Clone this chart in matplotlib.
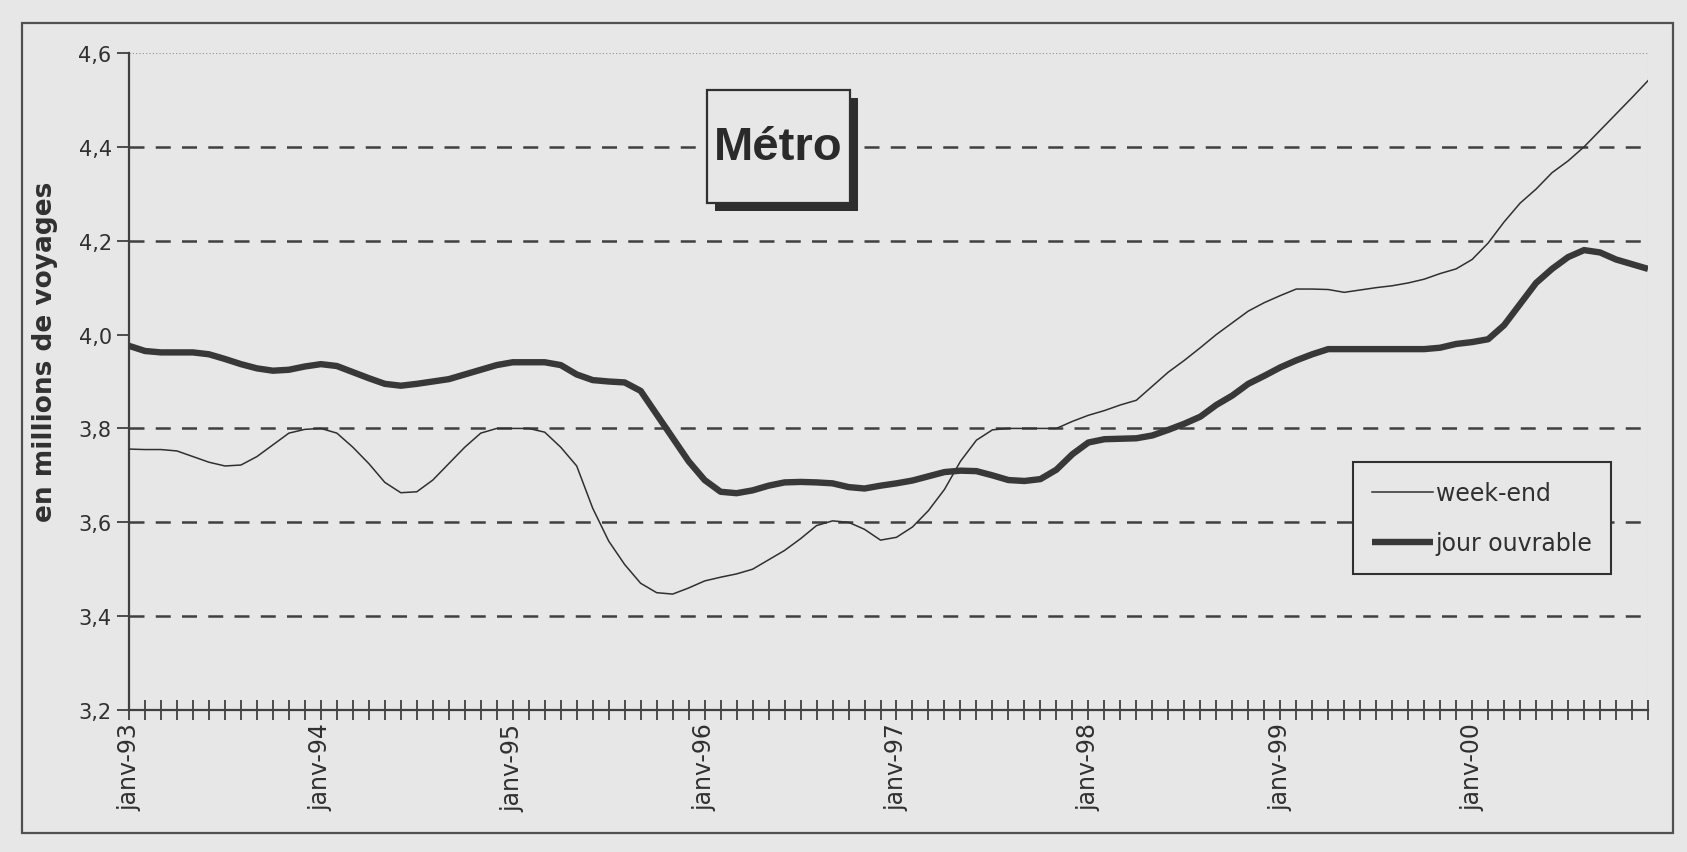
import matplotlib.pyplot as plt
from matplotlib.patches import Rectangle

# monthly values, janv-93 .. dec-00 (millions de voyages)
months = list(range(96))
week_end = [
    3.756, 3.755, 3.755, 3.752, 3.740, 3.728, 3.720, 3.722, 3.740, 3.765, 3.790, 3.798,
    3.800, 3.790, 3.760, 3.725, 3.685, 3.663, 3.665, 3.690, 3.725, 3.760, 3.790, 3.800,
    3.800, 3.800, 3.792, 3.760, 3.720, 3.630, 3.560, 3.510, 3.470, 3.450, 3.447, 3.460,
    3.475, 3.483, 3.490, 3.500, 3.520, 3.540, 3.565, 3.593, 3.603, 3.600, 3.585, 3.562,
    3.568, 3.590, 3.625, 3.670, 3.730, 3.775, 3.797, 3.800, 3.800, 3.800, 3.800, 3.815,
    3.828, 3.838, 3.850, 3.860, 3.890, 3.920, 3.945, 3.972, 4.000, 4.025, 4.050, 4.068,
    4.083, 4.097, 4.097, 4.096, 4.090, 4.095, 4.100, 4.104, 4.110, 4.118, 4.130, 4.140,
    4.160, 4.195, 4.240, 4.280, 4.310, 4.345, 4.370, 4.400, 4.435, 4.470, 4.505, 4.541,
]
jour_ouvrable = [
    3.976, 3.965, 3.962, 3.962, 3.962, 3.958, 3.948, 3.937, 3.928, 3.923, 3.925, 3.932,
    3.937, 3.933, 3.920, 3.907, 3.895, 3.891, 3.895, 3.900, 3.905, 3.915, 3.925, 3.935,
    3.941, 3.941, 3.941, 3.935, 3.915, 3.903, 3.900, 3.898, 3.880, 3.830, 3.780, 3.730,
    3.690, 3.665, 3.662, 3.668, 3.678, 3.685, 3.686, 3.685, 3.683, 3.675, 3.672, 3.678,
    3.683, 3.689, 3.698, 3.707, 3.710, 3.709, 3.700, 3.690, 3.688, 3.692, 3.712, 3.745,
    3.770, 3.777, 3.778, 3.779, 3.785, 3.797, 3.810, 3.825, 3.850, 3.870, 3.895, 3.912,
    3.930, 3.945, 3.958, 3.969, 3.969, 3.969, 3.969, 3.969, 3.969, 3.969, 3.972, 3.980,
    3.984, 3.990, 4.020, 4.065, 4.110, 4.140, 4.165, 4.180, 4.175, 4.160, 4.150, 4.140,
]
year_labels = ['janv-93', 'janv-94', 'janv-95', 'janv-96', 'janv-97', 'janv-98', 'janv-99', 'janv-00']
y_ticks = [3.2, 3.4, 3.6, 3.8, 4.0, 4.2, 4.4, 4.6]
grid_levels = [3.4, 3.6, 3.8, 4.2, 4.4]

bg = '#e7e7e7'
ink = '#303030'

fig = plt.figure(figsize=(16.87, 8.53), dpi=100, facecolor=bg)
ax = fig.add_axes([129 / 1687, 1 - 711 / 853, 1519 / 1687, 657 / 853])
ax.set_facecolor(bg)

# outer frame of the scanned chart
fig.patches.append(Rectangle((22 / 1687, 1 - 834 / 853), 1651 / 1687, 810 / 853,
                             transform=fig.transFigure, fill=False,
                             edgecolor='#505050', linewidth=1.6))

for lvl in grid_levels:
    ax.axhline(lvl, color='#404040', linewidth=1.8, linestyle=(0, (6, 4.5)), zorder=1)
ax.axhline(4.6, color='#909090', linewidth=0.8, linestyle=(0, (1, 2)), zorder=1)
ax.axvline(95, color='#909090', linewidth=0.8, linestyle=(0, (1, 2)), zorder=1)

ax.plot(months, week_end, color=ink, linewidth=1.1, label='week-end', zorder=3)
ax.plot(months, jour_ouvrable, color='#383838', linewidth=4.6, label='jour ouvrable',
        solid_capstyle='butt', zorder=3)

ax.set_xlim(0, 95)
ax.set_ylim(3.2, 4.6)
ax.set_yticks(y_ticks)
ax.set_yticklabels([('%.1f' % v).replace('.', ',') for v in y_ticks],
                   fontsize=15, color=ink)
ax.set_xticks(months, minor=True)
ax.set_xticks(list(range(0, 96, 12)))
ax.set_xticklabels(year_labels, rotation=90, fontsize=17, color=ink)
ax.tick_params(axis='x', which='both', direction='inout', length=14, width=1.3,
               color='#404040', pad=2)
ax.tick_params(axis='y', direction='out', length=9, width=1.3, color='#404040')

for side in ['top', 'right']:
    ax.spines[side].set_visible(False)
for side in ['left', 'bottom']:
    ax.spines[side].set_color('#404040')
    ax.spines[side].set_linewidth(1.6)

ax.set_ylabel('en millions de voyages', fontsize=19, fontweight='bold', color=ink)
ax.yaxis.set_label_coords(-0.047, 0.547)

# title box with shadow
bx, by, bw, bh = (707 - 129) / 1519, (711 - 204) / 657, 143 / 1519, 113 / 657
ax.add_patch(Rectangle((bx + 0.005, by - 0.012), bw, bh, transform=ax.transAxes,
                       facecolor='#2e2e2e', edgecolor='none', zorder=4))
ax.add_patch(Rectangle((bx, by), bw, bh, transform=ax.transAxes,
                       facecolor=bg, edgecolor='#303030', linewidth=1.6, zorder=5))
ax.text(bx + bw / 2, by + bh / 2, 'Métro', transform=ax.transAxes, ha='center',
        va='center', fontsize=34, fontweight='bold', color='#2a2a2a', zorder=6,
        family=['Liberation Sans Narrow', 'Liberation Sans'])

leg = ax.legend(loc='upper left', bbox_to_anchor=((1353 - 129) / 1519, (711 - 463) / 657),
                fontsize=17, frameon=True, fancybox=False, handlelength=2.6,
                handletextpad=0.1, borderpad=0.8, labelspacing=1.1, borderaxespad=0)
leg.get_frame().set_edgecolor('#303030')
leg.get_frame().set_facecolor(bg)
leg.get_frame().set_alpha(1)
leg.get_frame().set_linewidth(1.5)
for t in leg.get_texts():
    t.set_color(ink)

fig.savefig('out.png', dpi=100, facecolor=bg)
